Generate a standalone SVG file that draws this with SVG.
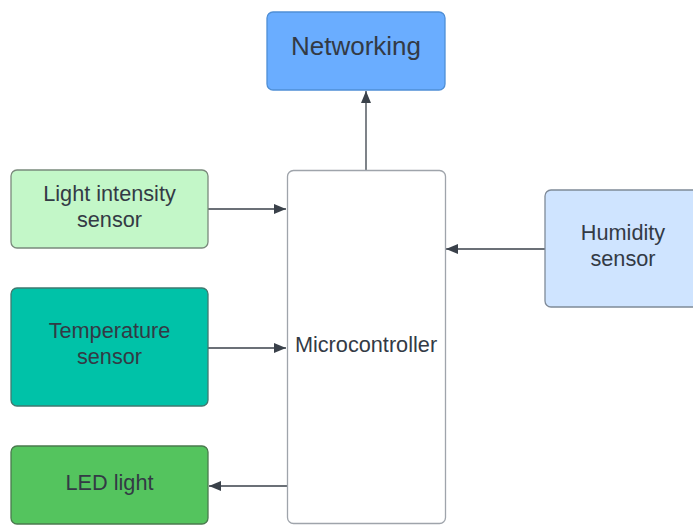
<svg xmlns="http://www.w3.org/2000/svg" width="693" height="525" viewBox="0 0 693 525">
  <style>
    .box { stroke-width: 1.3; }
    .lbl { font-family: "Liberation Sans", Arial, sans-serif; font-size: 21.7px; fill: #333a45; text-anchor: middle; }
    .big { font-size: 26px; }
    .edge { stroke: #3a414a; stroke-width: 1.3; fill: none; marker-end: url(#arrow); }
  </style>
  <defs>
    <marker id="arrow" viewBox="0 0 12 10" refX="12" refY="5" markerWidth="12" markerHeight="10" markerUnits="userSpaceOnUse" orient="auto">
      <path d="M0,0 L12,5 L0,10 Z" fill="#3a414a"/>
    </marker>
  </defs>
  <rect width="693" height="525" fill="#ffffff"/>

  <g id="connectors">
    <path class="edge" d="M366,170 V91"/>
    <path class="edge" d="M208,209 H286"/>
    <path class="edge" d="M208,348 H286"/>
    <path class="edge" d="M545,249 H446"/>
    <path class="edge" d="M287,486 H209"/>
  </g>

  <g id="networking">
    <rect class="box" x="267" y="12" width="178" height="78" rx="6" fill="#6aadff" stroke="#4f8fd6"/>
    <text class="lbl big" x="356" y="55">Networking</text>
  </g>

  <g id="microcontroller">
    <rect class="box" x="287.5" y="170.5" width="158" height="353" rx="6" fill="#ffffff" stroke="#9fa4ab"/>
    <text class="lbl" x="366" y="352">Microcontroller</text>
  </g>

  <g id="light-sensor">
    <rect class="box" x="11" y="170" width="197" height="78" rx="6" fill="#c3f7c8" stroke="#7a8a7c"/>
    <text class="lbl" x="109.5" y="201">Light intensity</text>
    <text class="lbl" x="109.5" y="227">sensor</text>
  </g>

  <g id="temperature-sensor">
    <rect class="box" x="11" y="288" width="197" height="118" rx="6" fill="#00c2a8" stroke="#3f7a70"/>
    <text class="lbl" x="109.5" y="338">Temperature</text>
    <text class="lbl" x="109.5" y="364">sensor</text>
  </g>

  <g id="led-light">
    <rect class="box" x="11" y="446" width="197" height="78" rx="6" fill="#54c45e" stroke="#4a7a4e"/>
    <text class="lbl" x="109.5" y="490">LED light</text>
  </g>

  <g id="humidity-sensor">
    <rect class="box" x="545" y="190" width="160" height="117" rx="6" fill="#cfe4ff" stroke="#7f8a98"/>
    <text class="lbl" x="623" y="240">Humidity</text>
    <text class="lbl" x="623" y="266">sensor</text>
  </g>
</svg>
